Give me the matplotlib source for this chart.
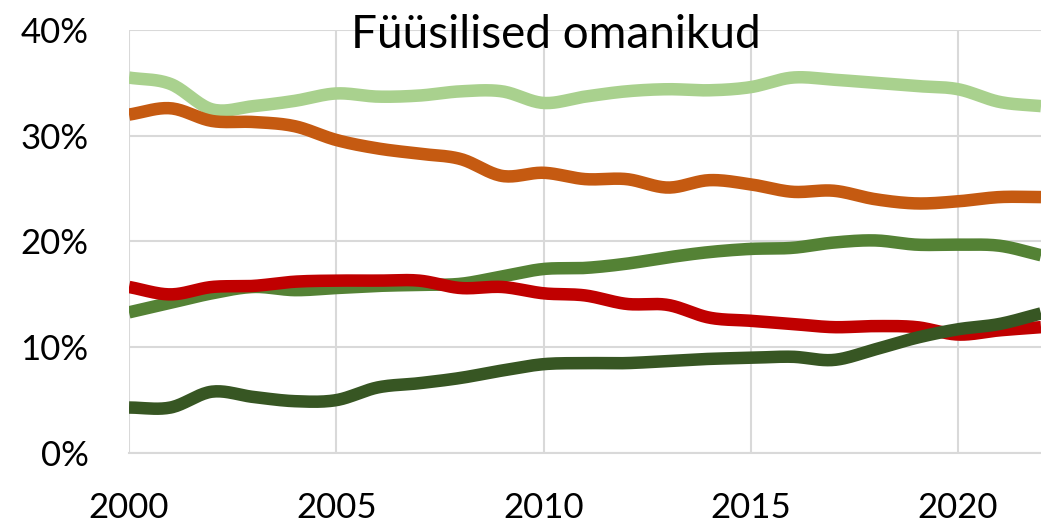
import numpy as np
import matplotlib
matplotlib.use("Agg")
import matplotlib.pyplot as plt
from matplotlib.ticker import FuncFormatter

years = list(range(2000, 2023))
light_green = [35.5, 34.9, 32.5, 32.8, 33.3, 34.0, 33.7, 33.8, 34.2, 34.2, 33.1, 33.7, 34.2,
               34.4, 34.3, 34.6, 35.5, 35.3, 35.0, 34.7, 34.4, 33.2, 32.8]
orange = [32.0, 32.6, 31.4, 31.3, 30.9, 29.6, 28.8, 28.3, 27.8, 26.2, 26.5, 25.9, 25.9,
          25.1, 25.8, 25.4, 24.7, 24.8, 24.0, 23.6, 23.8, 24.2, 24.2]
green = [13.3, 14.2, 15.1, 15.7, 15.4, 15.6, 15.8, 15.9, 16.0, 16.7, 17.4, 17.5, 17.9,
         18.5, 19.0, 19.3, 19.4, 19.9, 20.1, 19.7, 19.7, 19.6, 18.7]
red = [15.7, 15.0, 15.7, 15.8, 16.2, 16.3, 16.3, 16.3, 15.6, 15.7, 15.1, 14.9, 14.1,
       14.0, 12.8, 12.5, 12.2, 11.9, 12.0, 11.9, 11.2, 11.6, 11.9]
dark_green = [4.3, 4.3, 5.8, 5.3, 4.9, 5.0, 6.2, 6.6, 7.1, 7.8, 8.4, 8.5, 8.5,
              8.7, 8.9, 9.0, 9.1, 8.8, 9.8, 10.9, 11.7, 12.2, 13.2]
title = "Füüsilised omanikud"

series = [
    (light_green, "#A9D18E"),
    (orange, "#C55A11"),
    (green, "#548235"),
    (red, "#C00000"),
    (dark_green, "#375623"),
]


def smooth(x, y, n=20):
    # Catmull-Rom style smoothing (like Excel smoothed lines)
    x = np.asarray(x, float)
    y = np.asarray(y, float)
    px = np.concatenate([[2 * x[0] - x[1]], x, [2 * x[-1] - x[-2]]])
    py = np.concatenate([[2 * y[0] - y[1]], y, [2 * y[-1] - y[-2]]])
    xs, ys = [], []
    t = np.linspace(0, 1, n, endpoint=False)
    for i in range(1, len(px) - 2):
        p0, p1, p2, p3 = py[i - 1], py[i], py[i + 1], py[i + 2]
        q0, q1, q2, q3 = px[i - 1], px[i], px[i + 1], px[i + 2]
        f = lambda a0, a1, a2, a3: 0.5 * ((2 * a1) + (-a0 + a2) * t +
                                         (2 * a0 - 5 * a1 + 4 * a2 - a3) * t ** 2 +
                                         (-a0 + 3 * a1 - 3 * a2 + a3) * t ** 3)
        xs.append(f(q0, q1, q2, q3))
        ys.append(f(p0, p1, p2, p3))
    xs.append([x[-1]])
    ys.append([y[-1]])
    return np.concatenate(xs), np.concatenate(ys)


plt.rcParams['font.family'] = ['Lato', 'DejaVu Sans']
fig = plt.figure(figsize=(10.41, 5.26), dpi=100)
ax = fig.add_axes([129 / 1041, 1 - 453 / 526, (1041 - 129) / 1041, (453 - 30) / 526])

for vals, col in series:
    sx, sy = smooth(years, vals)
    ax.plot(sx, sy, color=col, lw=9, solid_capstyle='butt', solid_joinstyle='round', zorder=3)

ax.set_xlim(2000, 2022)
ax.set_ylim(0, 40)
ax.set_xticks([2000, 2005, 2010, 2015, 2020])
ax.set_yticks([0, 10, 20, 30, 40])
ax.yaxis.set_major_formatter(FuncFormatter(lambda v, p: f"{int(v)}%"))
ax.grid(True, color="#D9D9D9", lw=1.5, zorder=0)
for s in ['top', 'right', 'left']:
    ax.spines[s].set_visible(False)
ax.spines['bottom'].set_color("#D9D9D9")
ax.spines['bottom'].set_linewidth(1.5)
ax.tick_params(length=0, labelsize=25, colors="black")
ax.tick_params(axis='x', pad=28)
ax.tick_params(axis='y', pad=29)

ax.text((556 - 129) / (1041 - 129), (453 - 48) / (453 - 30), title, transform=ax.transAxes,
        ha='center', va='baseline', fontsize=33, zorder=5)

fig.savefig("out.png", dpi=100)
